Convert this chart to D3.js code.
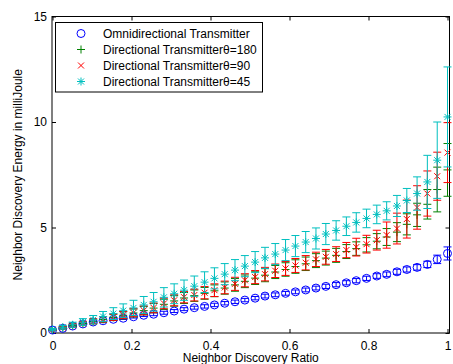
<!DOCTYPE html>
<html>
<head>
<meta charset="utf-8">
<script src="https://cdn.jsdelivr.net/npm/d3@7"></script>
<style>
  body { margin: 0; background: #fff; }
  svg { display: block; font-family: "Liberation Sans", Arial, sans-serif; }
  .axis text { font-size: 12px; fill: #000; }
  .axis line { stroke: #000; }
</style>
</head>
<body>
<svg width="453" height="364"></svg>
<script>
// x positions (neighbor discovery ratio)
var ratio = [0, 0.026, 0.051, 0.077, 0.103, 0.128, 0.154, 0.179, 0.205, 0.231,
  0.256, 0.282, 0.308, 0.333, 0.359, 0.385, 0.41, 0.436, 0.462, 0.487,
  0.513, 0.538, 0.564, 0.59, 0.615, 0.641, 0.667, 0.692, 0.718, 0.744,
  0.769, 0.795, 0.821, 0.846, 0.872, 0.897, 0.923, 0.949, 0.974, 1];

var omni = [0.14, 0.22, 0.33, 0.43, 0.52, 0.58, 0.65, 0.70, 0.77, 0.84,
  0.89, 0.96, 1.04, 1.13, 1.20, 1.26, 1.33, 1.41, 1.48, 1.56,
  1.65, 1.75, 1.81, 1.88, 1.95, 2.04, 2.13, 2.21, 2.29, 2.38,
  2.48, 2.59, 2.70, 2.78, 2.90, 3.01, 3.11, 3.25, 3.49, 3.77];
var omniErr = [0.03, 0.04, 0.04, 0.05, 0.05, 0.05, 0.06, 0.06, 0.06, 0.06,
  0.07, 0.07, 0.07, 0.07, 0.07, 0.08, 0.08, 0.08, 0.08, 0.08,
  0.08, 0.09, 0.09, 0.09, 0.09, 0.09, 0.09, 0.1, 0.1, 0.1,
  0.1, 0.1, 0.11, 0.11, 0.12, 0.12, 0.13, 0.15, 0.2, 0.31];

var dir180 = [0.15, 0.25, 0.35, 0.45, 0.55, 0.64, 0.74, 0.84, 0.95, 1.06,
  1.18, 1.36, 1.52, 1.66, 1.77, 1.88, 2.00, 2.13, 2.28, 2.45,
  2.60, 2.74, 2.89, 3.01, 3.15, 3.28, 3.43, 3.55, 3.68, 3.86,
  4.00, 4.18, 4.35, 4.55, 4.78, 5.15, 5.60, 6.10, 6.80, 7.73];
var err180 = [0.03, 0.05, 0.07, 0.09, 0.11, 0.13, 0.15, 0.17, 0.19, 0.2,
  0.22, 0.24, 0.25, 0.26, 0.27, 0.28, 0.28, 0.29, 0.3, 0.3,
  0.3, 0.31, 0.31, 0.32, 0.32, 0.32, 0.33, 0.33, 0.33, 0.33,
  0.32, 0.34, 0.36, 0.4, 0.45, 0.5, 0.55, 0.7, 1.06, 1.25];

var dir90 = [0.15, 0.25, 0.35, 0.45, 0.55, 0.65, 0.75, 0.85, 0.96, 1.07,
  1.19, 1.40, 1.55, 1.70, 1.80, 1.91, 2.03, 2.16, 2.33, 2.50,
  2.65, 2.79, 2.95, 3.06, 3.20, 3.33, 3.49, 3.61, 3.74, 3.93,
  4.07, 4.21, 4.40, 4.64, 4.95, 5.40, 5.95, 6.61, 7.43, 8.55];
var err90 = [0.03, 0.05, 0.07, 0.09, 0.11, 0.13, 0.15, 0.17, 0.19, 0.21,
  0.23, 0.25, 0.26, 0.27, 0.28, 0.29, 0.3, 0.3, 0.31, 0.31,
  0.31, 0.32, 0.32, 0.33, 0.33, 0.34, 0.34, 0.35, 0.35, 0.36,
  0.42, 0.42, 0.47, 0.62, 0.73, 0.9, 1.03, 1.07, 1.14, 1.42];

var dir45 = [0.17, 0.27, 0.39, 0.52, 0.63, 0.78, 0.92, 1.06, 1.19, 1.33,
  1.48, 1.69, 1.86, 2.03, 2.22, 2.41, 2.59, 2.79, 2.98, 3.17,
  3.36, 3.56, 3.74, 3.93, 4.12, 4.31, 4.48, 4.69, 4.86, 5.06,
  5.24, 5.43, 5.62, 5.79, 6.02, 6.28, 6.61, 7.16, 8.19, 10.24];
var err45 = [0.04, 0.08, 0.12, 0.16, 0.2, 0.24, 0.28, 0.32, 0.36, 0.4,
  0.44, 0.46, 0.47, 0.48, 0.48, 0.49, 0.5, 0.5, 0.5, 0.5,
  0.5, 0.5, 0.5, 0.5, 0.5, 0.5, 0.5, 0.5, 0.46, 0.44,
  0.46, 0.44, 0.44, 0.43, 0.5, 0.57, 0.79, 1.26, 1.81, 2.37];

var xTicks = [0, 0.2, 0.4, 0.6, 0.8, 1];
var yTicks = [0, 5, 10, 15];

var legendLabels = ["Omnidirectional Transmitter", "Directional Transmitter\u03b8=180",
  "Directional Transmitter\u03b8=90", "Directional Transmitter\u03b8=45"];

var svg = d3.select("svg"),
    pLeft = 52, pRight = 449.5, pTop = 16.5, pBottom = 333;

var x = d3.scaleLinear().domain([0, 1]).range([52.5, 447.5]),
    y = d3.scaleLinear().domain([0, 15]).range([pBottom, pTop]);

// axes (ticks pointing inward)
svg.append("g").attr("class", "axis")
  .attr("transform", "translate(0," + pBottom + ")")
  .call(d3.axisBottom(x).tickValues(xTicks).tickSize(-4).tickPadding(8).tickFormat(d3.format("")))
  .call(function(g) { g.select(".domain").remove(); });
svg.append("g").attr("class", "axis")
  .attr("transform", "translate(0," + pTop + ")")
  .call(d3.axisTop(x).tickValues(xTicks).tickSize(-4).tickFormat(""))
  .call(function(g) { g.select(".domain").remove(); });
svg.append("g").attr("class", "axis")
  .attr("transform", "translate(" + pLeft + ",0)")
  .call(d3.axisLeft(y).tickValues(yTicks).tickSize(-4).tickPadding(5))
  .call(function(g) { g.select(".domain").remove(); });
svg.append("g").attr("class", "axis")
  .attr("transform", "translate(" + pRight + ",0)")
  .call(d3.axisRight(y).tickValues(yTicks).tickSize(-4).tickFormat(""))
  .call(function(g) { g.select(".domain").remove(); });

svg.append("rect")
  .attr("x", pLeft).attr("y", pTop)
  .attr("width", pRight - pLeft).attr("height", pBottom - pTop)
  .attr("fill", "none").attr("stroke", "#000").attr("stroke-width", 1);

svg.append("text")
  .attr("x", (pLeft + pRight) / 2).attr("y", 362)
  .attr("text-anchor", "middle").style("font-size", "12px")
  .text("Neighbor Discovery Ratio");
svg.append("text")
  .attr("transform", "translate(22," + ((pTop + pBottom) / 2) + ") rotate(-90)")
  .attr("text-anchor", "middle").style("font-size", "12px")
  .text("Neighbor Discovery Energy in milliJoule");

// marker shapes
function drawMarker(g, kind, color) {
  if (kind == "o") {
    g.append("circle").attr("r", 4).attr("fill", "none").attr("stroke", color);
  } else if (kind == "+") {
    g.append("path").attr("d", "M-4,0H4M0,-4V4").attr("stroke", color);
  } else if (kind == "x") {
    g.append("path").attr("d", "M-3,-3L3,3M-3,3L3,-3").attr("stroke", color);
  } else {
    g.append("path").attr("d", "M-4,0H4M0,-4V4M-3,-3L3,3M-3,3L3,-3").attr("stroke", color);
  }
}

var series = [
  {vals: omni, err: omniErr, color: "#0000ff", kind: "o"},
  {vals: dir180, err: err180, color: "#008000", kind: "+"},
  {vals: dir90, err: err90, color: "#ff0000", kind: "x"},
  {vals: dir45, err: err45, color: "#00bfbf", kind: "*"}
];

var plot = svg.append("g");
series.forEach(function(s) {
  var g = plot.append("g");
  var pts = ratio.map(function(r, i) { return {r: r, v: s.vals[i], e: s.err[i]}; });
  g.selectAll(".eb").data(pts).enter().append("path")
    .attr("fill", "none").attr("stroke", s.color).attr("stroke-width", 1)
    .attr("d", function(d) {
      var cx = x(d.r), y0 = y(d.v - d.e), y1 = y(d.v + d.e);
      return "M" + cx + "," + y0 + "V" + y1 +
        "M" + (cx - 4) + "," + y0 + "H" + (cx + 4) +
        "M" + (cx - 4) + "," + y1 + "H" + (cx + 4);
    });
  g.selectAll(".mk").data(pts).enter().append("g")
    .attr("transform", function(d) { return "translate(" + x(d.r) + "," + y(d.v) + ")"; })
    .each(function() { drawMarker(d3.select(this), s.kind, s.color); });
});

// legend
var lg = svg.append("g");
lg.append("rect").attr("x", 55.5).attr("y", 22.5).attr("width", 207).attr("height", 69.5)
  .attr("fill", "#fff").attr("stroke", "#000");
legendLabels.forEach(function(t, i) {
  var ly = 33.5 + i * 16;
  var mk = lg.append("g").attr("transform", "translate(81," + ly + ")");
  drawMarker(mk, series[i].kind, series[i].color);
  lg.append("text").attr("x", 103).attr("y", ly + 4.5).style("font-size", "12px").text(t);
});
</script>
</body>
</html>
